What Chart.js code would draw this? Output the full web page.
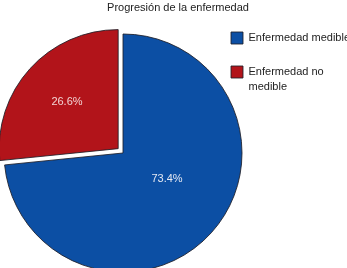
<!DOCTYPE html>
<html>
<head>
<meta charset="utf-8">
<script src="https://cdn.jsdelivr.net/npm/chart.js@4.4.1/dist/chart.umd.min.js"></script>
<style>
  html, body { margin: 0; padding: 0; background: #ffffff; overflow: hidden; }
  #wrap { width: 347px; height: 268px; overflow: hidden; }
  canvas { display: block; }
</style>
</head>
<body>
<div id="wrap"><canvas id="c" width="347" height="296"></canvas></div>
<script>
const titleText = 'Progresión de la enfermedad';
const categories = ['Enfermedad medible', ['Enfermedad no', 'medible']];
const values = [73.4, 26.6];
const colors = ['#0c4fa4', '#b2141a'];
const offsets = [0, 26];
const labelRadiusFactor = [0.43, 0.58];
const labelAngleShift = [-0.2, 0];

const sliceLabels = {
  id: 'sliceLabels',
  afterDatasetsDraw(chart) {
    const ctx = chart.ctx;
    const meta = chart.getDatasetMeta(0);
    const ds = chart.data.datasets[0];
    const total = ds.data.reduce((a, b) => a + b, 0);
    ctx.save();
    ctx.font = '11px "Liberation Sans", Arial, sans-serif';
    ctx.textAlign = 'center';
    ctx.textBaseline = 'middle';
    meta.data.forEach((arc, i) => {
      const p = arc.getProps(['x', 'y', 'startAngle', 'endAngle', 'outerRadius'], true);
      const mid = (p.startAngle + p.endAngle) / 2 + labelAngleShift[i];
      const off = (arc.options.offset || 0) / 4;
      const r = off + labelRadiusFactor[i] * p.outerRadius;
      const tx = p.x + Math.cos(mid) * r;
      const ty = p.y + Math.sin(mid) * r;
      ctx.fillStyle = i === 0 ? '#e4e8f2' : '#f2d4d4';
      ctx.fillText((ds.data[i] / total * 100).toFixed(1) + '%', tx, ty);
    });
    ctx.restore();
  }
};

// Let the legend run past the canvas edge (text is cut by the canvas, as in the reference)
const legendPlacement = {
  id: 'legendPlacement',
  afterLayout(chart) {
    const lg = chart.legend;
    if (!lg) return;
    lg.top += 10;
    lg.bottom += 10;
    lg.width = 200;
    lg.right = lg.left + 200;
  }
};

new Chart(document.getElementById('c'), {
  type: 'pie',
  data: {
    labels: categories,
    datasets: [{
      data: values,
      backgroundColor: colors,
      borderColor: 'rgba(30,30,40,0.85)',
      borderWidth: 1,
      offset: offsets,
      hoverOffset: 0,
      radius: 119
    }]
  },
  options: {
    responsive: false,
    animation: false,
    events: [],
    layout: { padding: { left: 37, right: 28, top: 0, bottom: 0 } },
    plugins: {
      title: {
        display: true,
        text: titleText,
        color: '#222222',
        font: { family: '"Liberation Sans", Arial, sans-serif', size: 11, weight: 'normal' },
        padding: { top: 1, bottom: -4.2 }
      },
      legend: {
        display: true,
        position: 'right',
        align: 'start',
        maxWidth: 110,
        labels: {
          boxWidth: 12,
          boxHeight: 12,
          padding: 22,
          color: '#222222',
          font: { family: '"Liberation Sans", Arial, sans-serif', size: 11, lineHeight: 1.4 }
        }
      },
      tooltip: { enabled: false }
    }
  },
  plugins: [sliceLabels, legendPlacement]
});
</script>
</body>
</html>
